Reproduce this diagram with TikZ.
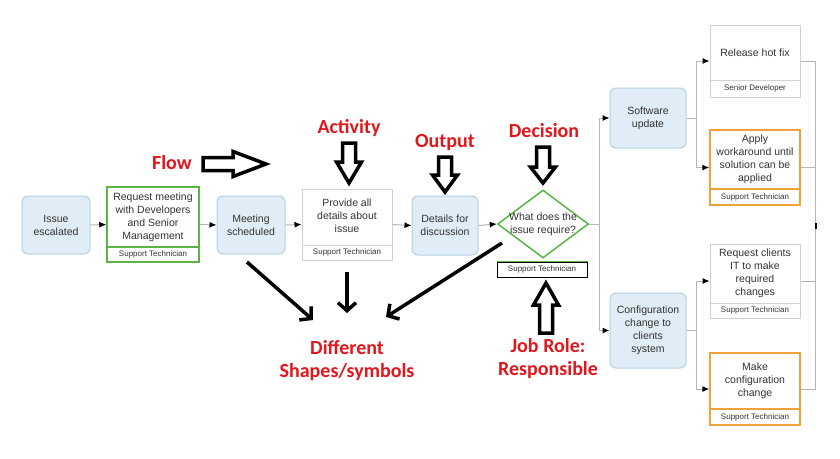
\documentclass[tikz,border=0pt]{standalone}
\usepackage{fontspec}
\setmainfont{Liberation Sans}
\newfontfamily\annotfont{Carlito}
\usetikzlibrary{arrows.meta,shapes.geometric,calc}
\definecolor{bfill}{HTML}{E0EDF6}
\definecolor{bline}{HTML}{B3D1E5}
\definecolor{gline}{HTML}{5CB346}
\definecolor{oline}{HTML}{F0A23A}
\definecolor{lgray}{HTML}{D2D2D2}
\definecolor{cgray}{HTML}{B5B5B5}
\definecolor{annred}{HTML}{E3161C}
\definecolor{txtc}{HTML}{333333}
\tikzset{pics/fatarrow/.style n args={2}{code={%
  \draw[fat] (0,-6.5) -- (#1,-6.5) -- (#1,-12.5) -- ({#1+#2},0) -- (#1,12.5) -- (#1,6.5) -- (0,6.5) -- cycle;}}}
\begin{document}
\begin{tikzpicture}[x=1pt,y=-1pt,
 every node/.style={inner sep=0pt, text=txtc},
 proc/.style={rectangle, rounded corners=6pt, draw=bline, fill=bfill, line width=1pt, align=center, font=\fontsize{10.5}{13}\selectfont},
 act/.style={rectangle, draw=#1, line width=1.5pt, fill=white},
 lbl/.style={align=center, font=\fontsize{10.5}{13}\selectfont},
 role/.style={rectangle, draw=#1, line width=1.5pt, fill=white, font=\fontsize{8}{9}\selectfont},
 conn/.style={draw=cgray, line width=1pt, -{Latex[color=black,length=7pt,width=6pt]}},
 link/.style={draw=cgray, line width=1pt},
 ann/.style={text=annred, font=\annotfont\bfseries\fontsize{20}{23}\selectfont, align=center},
 hint/.style={line width=3.5pt, black, -{Straight Barb[length=8pt,width=18pt]}},
 fat/.style={draw=black, line width=3.5pt, fill=white, line join=miter}
]
\fill[white] (0,0) rectangle (840,458);
\useasboundingbox (0,0) rectangle (840,458);

% main flow
\node[proc, minimum width=68, minimum height=58] (esc) at (56,225) {Issue\\escalated};
\node[act=gline, minimum width=92, minimum height=75] (req) at (153,224.5) {};
\node[role=gline, minimum width=92, minimum height=15, anchor=south] (reqr) at (req.south) {Support Technician};
\node[lbl] (reqt) at (153,217) {Request meeting\\with Developers\\and Senior\\Management};
\node[proc, minimum width=68, minimum height=58] (meet) at (251,225) {Meeting\\scheduled};
\node[act=lgray, line width=1pt, minimum width=90, minimum height=71] (prov) at (347,224.5) {};
\node[role=lgray, line width=1pt, minimum width=90, minimum height=15, anchor=south] (provr) at (prov.south) {Support Technician};
\node[lbl] (provt) at (347,216) {Provide all\\details about\\issue};
\node[proc, minimum width=66, minimum height=59] (det) at (445,225.5) {Details for\\discussion};
\node[diamond, draw=gline, line width=1.5pt, minimum width=91, minimum height=68, fill=white] (dec) at (543,224) {};
\node[lbl] (dect) at (543,224) {What does the\\issue require?};
\node[role=black, line width=1pt, minimum width=90, minimum height=15] (decr) at (542,269.5) {Support Technician};
\draw[gline, line width=1.5pt] (decr.north west) -- (decr.north east);

% branches
\node[proc, minimum width=76, minimum height=60] (sw) at (648,118) {Software\\update};
\node[proc, minimum width=76, minimum height=75] (cfg) at (648,330.5) {Configuration\\change to\\clients\\system};

\node[act=lgray, line width=1pt, minimum width=90, minimum height=72] (rel) at (755,61) {};
\node[role=lgray, line width=1pt, minimum width=90, minimum height=17, anchor=south] (relr) at (rel.south) {Senior Developer};
\node[lbl] (relt) at (755,52.5) {Release hot fix};

\node[act=oline, minimum width=90, minimum height=75] (app) at (755,167.5) {};
\node[role=oline, minimum width=90, minimum height=16, anchor=south] (appr) at (app.south) {Support Technician};
\node[lbl] (appt) at (755,159.5) {Apply\\workaround until\\solution can be\\applied};

\node[act=lgray, line width=1pt, minimum width=90, minimum height=74] (rq) at (755,281) {};
\node[role=lgray, line width=1pt, minimum width=90, minimum height=15, anchor=south] (rqr) at (rq.south) {Support Technician};
\node[lbl] (rqt) at (755,273.5) {Request clients\\IT to make\\required\\changes};

\node[act=oline, minimum width=90, minimum height=72] (mk) at (755,389) {};
\node[role=oline, minimum width=90, minimum height=16, anchor=south] (mkr) at (mk.south) {Support Technician};
\node[lbl] (mkt) at (755,381) {Make\\configuration\\change};

% connectors
\draw[conn] (esc.east) -- (req.west);
\draw[conn] (req.east) -- (meet.west);
\draw[conn] (meet.east) -- (prov.west);
\draw[conn] (prov.east) -- (det.west);
\draw[conn] (det.east) -- (dec.west);
\draw[link] (dec.east) -- ++(10,0) coordinate (dsplit);
\draw[conn] (dsplit) |- (sw.west);
\draw[conn] (dsplit) |- (cfg.west);
\draw[link] (sw.east) -- ++(10,0) coordinate (swsplit);
\draw[conn] (swsplit) |- (rel.west);
\draw[conn] (swsplit) |- (app.west);
\draw[link] (cfg.east) -- ++(10,0) coordinate (cfgsplit);
\draw[conn] (cfgsplit) |- (rq.west);
\draw[conn] (cfgsplit) |- (mk.west);
\coordinate (merge) at (815,226);
\draw[link] (rel.east) -| (merge);
\draw[link] (mk.east) -| (merge);
\draw[link] (app.east) -- (app.east -| merge);
\draw[link] (rq.east) -- (rq.east -| merge);
\draw[black, line width=1.5pt] ($(merge)+(1,-3)$) -- ($(merge)+(1,3)$);

% annotations
\node[ann] (flow) at (172,163) {Flow};
\node[ann] (activity) at (349,128) {Activity};
\node[ann] (output) at (445,143) {Output};
\node[ann] (decision) at (544,131) {Decision};
\node[ann] (jobrole) at (548,359) {Job Role:\\Responsible};
\node[ann] (shapes) at (347,361) {Different\\Shapes/symbols};

\pic at (203,164) {fatarrow={30}{33}};
\pic[rotate=-90] at (349,143) {fatarrow={19}{21}};
\pic[rotate=-90] at (445,157) {fatarrow={18}{17}};
\pic[rotate=-90] at (543,147) {fatarrow={20}{16}};
\pic[rotate=90] at (546,333) {fatarrow={28}{22}};

\coordinate (h1s) at (247,262);
\coordinate (h1e) at (313,320);
\coordinate (h2s) at (347,272);
\coordinate (h2e) at (347,313);
\coordinate (h3s) at (502,243);
\coordinate (h3e) at (386,317);
\draw[hint] (h1s) -- (h1e);
\draw[hint] (h2s) -- (h2e);
\draw[hint] (h3s) -- (h3e);
\end{tikzpicture}
\end{document}
